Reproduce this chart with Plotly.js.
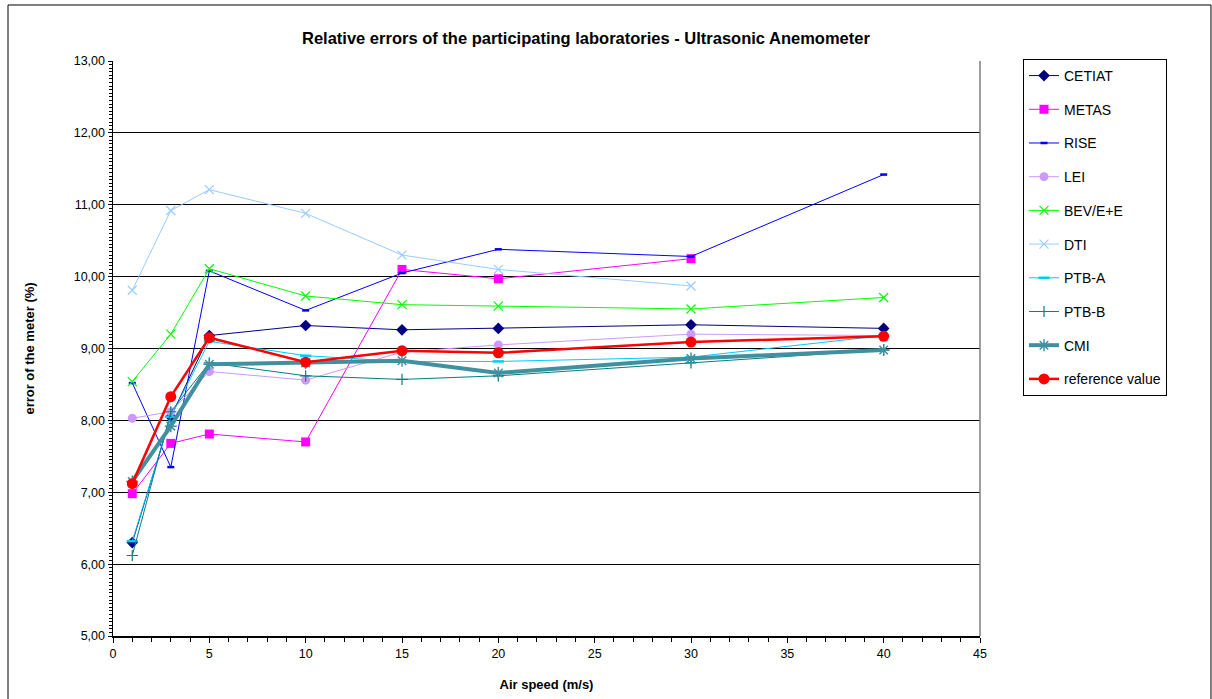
<!DOCTYPE html>
<html>
<head>
<meta charset="utf-8">
<script src="https://cdn.plot.ly/plotly-3.0.1.min.js"></script>
<style>html,body{margin:0;padding:0;background:#fff;}#chart{width:1212px;height:699px;}</style>
</head>
<body>
<div id="chart"></div>
<script>
const speeds = [1, 3, 5, 10, 15, 20, 30, 40];
const speedsShort = [1, 3, 5, 10, 15, 20, 30];

const cetiat = [6.30, 8.05, 9.18, 9.32, 9.26, 9.28, 9.33, 9.28];
const metas  = [6.98, 7.68, 7.81, 7.70, 10.10, 9.97, 10.25];
const rise   = [8.52, 7.35, 10.08, 9.53, 10.05, 10.38, 10.28, 11.42];
const lei    = [8.03, 8.12, 8.68, 8.56, 8.95, 9.05, 9.20, 9.18];
const bev    = [8.54, 9.20, 10.11, 9.73, 9.61, 9.59, 9.55, 9.71];
const dti    = [9.81, 10.92, 11.21, 10.88, 10.30, 10.10, 9.87];
const ptbA   = [6.32, 8.05, 9.10, 8.90, 8.82, 8.82, 8.88, 9.18];
const ptbB   = [6.12, 8.12, 8.80, 8.62, 8.57, 8.62, 8.80, 8.98];
const cmi    = [7.15, 7.92, 8.78, 8.80, 8.83, 8.66, 8.86, 8.98];
const refVal = [7.12, 8.33, 9.15, 8.81, 8.97, 8.94, 9.09, 9.17];

const font = "Liberation Sans, Arial, sans-serif";

function tr(name, x, y, color, lw, sym, msize, mline, group) {
  return {
    type: 'scatter', mode: 'lines+markers', name: name, x: x, y: y,
    legendgroup: group,
    line: {color: color, width: lw},
    marker: {symbol: sym, size: msize, color: color, line: {color: color, width: mline}},
    cliponaxis: false
  };
}

const data = [
  tr('CETIAT', speeds, cetiat, '#000080', 1, 'diamond', 9, 0, 'a'),
  tr('METAS', speedsShort, metas, '#FF00FF', 1, 'square', 9, 0, 'b'),
  tr('RISE', speeds, rise, '#0000FF', 1, 'line-ew-open', 5, 2.5, 'c'),
  tr('LEI', speeds, lei, '#CC99FF', 1, 'circle', 9, 0, 'd'),
  tr('BEV/E+E', speeds, bev, '#00FF00', 1, 'x-thin-open', 9, 1.2, 'e'),
  tr('DTI', speedsShort, dti, '#99CCFF', 1, 'x-thin-open', 9, 1.2, 'f'),
  tr('PTB-A', speeds, ptbA, '#00CCFF', 1, 'line-ew-open', 8, 2.5, 'g'),
  tr('PTB-B', speeds, ptbB, '#008080', 1, 'cross-thin-open', 8, 1.2, 'h'),
  tr('CMI', speeds, cmi, '#4190A0', 4, 'asterisk-open', 10, 1.5, 'i'),
  tr('reference value', speeds, refVal, '#FF0000', 2.5, 'circle', 11, 0, 'j')
];

const layout = {
  width: 1212, height: 699,
  margin: {l: 113, r: 232, t: 61, b: 63},
  paper_bgcolor: '#fff', plot_bgcolor: '#fff',
  separators: ', ',
  font: {family: font, size: 12, color: '#000'},
  title: {
    text: '<b>Relative errors of the participating laboratories - Ultrasonic Anemometer</b>',
    font: {family: font, size: 16.5, color: '#000'},
    x: 0.5455, xref: 'paper', xanchor: 'center', y: 0.945, yref: 'container', yanchor: 'middle'
  },
  xaxis: {
    range: [0, 45], dtick: 5, tick0: 0, autorange: false,
    showgrid: false, zeroline: false,
    showline: true, linecolor: '#000', linewidth: 2, mirror: false,
    ticks: 'outside', ticklen: 5, tickcolor: '#000', tickwidth: 1,
    minor: {dtick: 1, ticks: 'outside', ticklen: 4, tickcolor: '#000', showgrid: false},
    tickfont: {family: font, size: 12.5, color: '#000'},
    title: {text: '<b>Air speed (m/s)</b>', font: {family: font, size: 13, color: '#000'}, standoff: 20}
  },
  yaxis: {
    range: [5, 13], dtick: 1, tick0: 5, autorange: false,
    tickformat: '.2f',
    showgrid: true, gridcolor: '#000', gridwidth: 1, zeroline: false,
    showline: true, linecolor: '#000', linewidth: 1.5, mirror: false,
    ticks: 'outside', ticklen: 4, tickcolor: '#000', tickwidth: 1,
    minor: {dtick: 0.05, ticks: 'outside', ticklen: 3, tickcolor: '#000', showgrid: false},
    tickfont: {family: font, size: 12.5, color: '#000'},
    title: {text: '<b>error of the meter (%)</b>', font: {family: font, size: 13, color: '#000'}, standoff: 36}
  },
  xaxis2: {
    overlaying: 'x', anchor: 'y', range: [0, 45], dtick: 5, tick0: 0,
    showgrid: false, zeroline: false, showticklabels: false, showline: false,
    ticks: 'inside', ticklen: 5, tickcolor: '#000', tickwidth: 1,
    minor: {dtick: 1, ticks: 'inside', ticklen: 4, tickcolor: '#000', showgrid: false}
  },
  yaxis2: {
    overlaying: 'y', anchor: 'x', side: 'left', range: [5, 13], dtick: 1, tick0: 5,
    showgrid: false, zeroline: false, showticklabels: false, showline: false,
    ticks: 'inside', ticklen: 4, tickcolor: '#000', tickwidth: 1,
    minor: {dtick: 0.05, ticks: 'inside', ticklen: 3, tickcolor: '#000', showgrid: false}
  },
  showlegend: true,
  legend: {
    x: 1.0496, xanchor: 'left', y: 1.0035, yanchor: 'top',
    bgcolor: '#fff', bordercolor: '#000', borderwidth: 1,
    font: {family: font, size: 14, color: '#000'},
    tracegroupgap: 12.5, itemwidth: 30
  },
  shapes: [
    {type: 'rect', xref: 'paper', yref: 'paper', x0: 1, x1: 1, y0: 0, y1: 1,
     line: {color: '#808080', width: 1.5}},
    {type: 'rect', xref: 'paper', yref: 'paper', x0: -0.1211, x1: 1.2664, y0: -0.12, y1: 1.0974,
     line: {color: '#000', width: 1}, fillcolor: 'rgba(0,0,0,0)', layer: 'below'}
  ]
};

Plotly.newPlot('chart', data, layout, {displayModeBar: false, staticPlot: true});
</script>
</body>
</html>
